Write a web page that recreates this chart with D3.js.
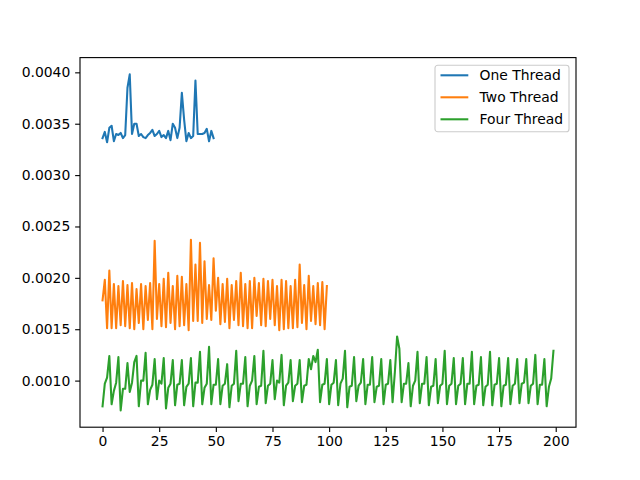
<!DOCTYPE html>
<html>
<head>
<meta charset="utf-8">
<script src="https://cdn.jsdelivr.net/npm/d3@7"></script>
<style>
	body { margin: 0; background: #fff; }
	text { font-family: "DejaVu Sans", sans-serif; font-size: 13.9px; fill: #000; }
</style>
</head>
<body>
<div id="chart"></div>
<script>
// series names and colours
var seriesNames = ["One Thread", "Two Thread", "Four Thread"];
var seriesColors = ["#1f77b4", "#ff7f0e", "#2ca02c"];

// timings, one value per run index
var oneThread = [0.00336,0.00342,0.00332,0.00346,0.00348,0.00333,0.00340,0.00339,0.00341,0.00336,
	0.00339,0.00385,0.00398,0.00340,0.00350,0.00350,0.00338,0.00340,0.00337,0.00336,
	0.00339,0.00341,0.00344,0.00338,0.00340,0.00343,0.00337,0.00339,0.00336,0.00343,
	0.00334,0.00350,0.00346,0.00336,0.00346,0.00380,0.00354,0.00333,0.00341,0.00336,
	0.00338,0.00392,0.00340,0.00340,0.00340,0.00341,0.00345,0.00333,0.00343,0.00336];

var twoThread = [0.00178,0.00198,0.00151,0.00207,0.00151,0.00194,0.00151,0.00192,0.00154,0.00197,
	0.00153,0.00193,0.00151,0.00195,0.00150,0.00189,0.00156,0.00194,0.00150,0.00192,
	0.00159,0.00195,0.00150,0.00236,0.00160,0.00194,0.00153,0.00199,0.00152,0.00205,
	0.00156,0.00192,0.00150,0.00202,0.00153,0.00201,0.00154,0.00194,0.00149,0.00237,
	0.00158,0.00213,0.00158,0.00234,0.00156,0.00216,0.00160,0.00193,0.00159,0.00219,
	0.00168,0.00200,0.00155,0.00194,0.00157,0.00199,0.00151,0.00193,0.00159,0.00197,
	0.00154,0.00205,0.00153,0.00194,0.00151,0.00197,0.00151,0.00200,0.00163,0.00195,
	0.00154,0.00199,0.00153,0.00197,0.00160,0.00198,0.00154,0.00192,0.00149,0.00198,
	0.00150,0.00197,0.00151,0.00192,0.00151,0.00198,0.00152,0.00213,0.00156,0.00193,
	0.00150,0.00202,0.00158,0.00192,0.00155,0.00195,0.00154,0.00196,0.00150,0.00192];

var fourThread = [0.00075,0.00097,0.00103,0.00124,0.00077,0.00090,0.00098,0.00123,0.00071,0.00092,
	0.00092,0.00117,0.00089,0.00098,0.00118,0.00124,0.00075,0.00100,0.00100,0.00127,
	0.00077,0.00091,0.00096,0.00121,0.00082,0.00100,0.00097,0.00122,0.00073,0.00093,
	0.00097,0.00120,0.00076,0.00096,0.00097,0.00120,0.00076,0.00094,0.00097,0.00122,
	0.00075,0.00098,0.00098,0.00128,0.00077,0.00093,0.00097,0.00133,0.00077,0.00096,
	0.00096,0.00121,0.00077,0.00095,0.00097,0.00116,0.00074,0.00095,0.00097,0.00129,
	0.00080,0.00097,0.00097,0.00123,0.00075,0.00095,0.00100,0.00124,0.00077,0.00094,
	0.00095,0.00129,0.00078,0.00095,0.00097,0.00120,0.00082,0.00100,0.00098,0.00125,
	0.00076,0.00095,0.00098,0.00120,0.00080,0.00095,0.00097,0.00120,0.00079,0.00095,
	0.00096,0.00121,0.00111,0.00124,0.00118,0.00130,0.00079,0.00096,0.00097,0.00121,
	0.00077,0.00096,0.00098,0.00120,0.00076,0.00097,0.00102,0.00129,0.00074,0.00094,
	0.00095,0.00123,0.00080,0.00095,0.00098,0.00121,0.00077,0.00096,0.00096,0.00123,
	0.00079,0.00094,0.00095,0.00121,0.00077,0.00096,0.00097,0.00120,0.00079,0.00108,
	0.00143,0.00131,0.00079,0.00097,0.00097,0.00117,0.00075,0.00095,0.00100,0.00128,
	0.00078,0.00097,0.00097,0.00123,0.00076,0.00094,0.00095,0.00121,0.00078,0.00095,
	0.00097,0.00129,0.00077,0.00095,0.00097,0.00122,0.00077,0.00095,0.00097,0.00122,
	0.00077,0.00097,0.00097,0.00128,0.00077,0.00095,0.00096,0.00123,0.00076,0.00094,
	0.00096,0.00128,0.00076,0.00096,0.00097,0.00122,0.00075,0.00095,0.00096,0.00122,
	0.00077,0.00095,0.00097,0.00121,0.00078,0.00097,0.00098,0.00121,0.00078,0.00095,
	0.00097,0.00125,0.00077,0.00096,0.00096,0.00121,0.00075,0.00094,0.00102,0.00129];

// tick values
var xTicks = [0, 25, 50, 75, 100, 125, 150, 175, 200];
var yTicks = [0.0010, 0.0015, 0.0020, 0.0025, 0.0030, 0.0035, 0.0040];

var allSeries = [oneThread, twoThread, fourThread];

var width = 640, height = 480;
var margins = { top: 57.6, right: 64, bottom: 52.8, left: 80 };
var plotW = width - margins.left - margins.right;
var plotH = height - margins.top - margins.bottom;

var svg = d3.select("#chart").append("svg")
	.attr("width", width)
	.attr("height", height);

// matplotlib style 5% padding on the data limits
var xMax = d3.max(allSeries, function(s) { return s.length - 1; });
var yMin = d3.min(allSeries, function(s) { return d3.min(s); });
var yMax = d3.max(allSeries, function(s) { return d3.max(s); });
var xPad = xMax * 0.05, yPad = (yMax - yMin) * 0.05;

var x = d3.scaleLinear().domain([-xPad, xMax + xPad]).range([0, plotW]);
var y = d3.scaleLinear().domain([yMin - yPad, yMax + yPad]).range([plotH, 0]);

var g = svg.append("g").attr("transform", "translate(" + margins.left + "," + margins.top + ")");

var line = d3.line()
	.x(function(d, i) { return x(i); })
	.y(function(d) { return y(d); });

allSeries.forEach(function(s, k) {
	g.append("path")
		.datum(s)
		.attr("fill", "none")
		.attr("stroke", seriesColors[k])
		.attr("stroke-width", 2.08)
		.attr("stroke-linejoin", "round")
		.attr("stroke-linecap", "square")
		.attr("d", line);
});

// axes
var xAxis = d3.axisBottom(x).tickValues(xTicks).tickSize(4.86).tickPadding(4.2).tickFormat(d3.format("d"));
var yAxis = d3.axisLeft(y).tickValues(yTicks).tickSize(4.86).tickPadding(4.86).tickFormat(d3.format(".4f"));

var gx = g.append("g").attr("transform", "translate(0," + plotH + ")").call(xAxis);
var gy = g.append("g").call(yAxis);

[gx, gy].forEach(function(a) {
	a.select(".domain").remove();
	a.selectAll(".tick line").attr("stroke", "#000").attr("stroke-width", 1.11);
	a.selectAll(".tick text").attr("font-size", null).attr("font-family", null);
});
gx.selectAll(".tick text").attr("dy", "0.71em");

// frame
g.append("rect")
	.attr("width", plotW)
	.attr("height", plotH)
	.attr("fill", "none")
	.attr("stroke", "#000")
	.attr("stroke-width", 1.11);

// legend
var lg = g.append("g").attr("transform", "translate(" + (435 - margins.left) + "," + (65.3 - margins.top) + ")");
lg.append("rect")
	.attr("width", 134)
	.attr("height", 66.5)
	.attr("rx", 2.8)
	.attr("fill", "#fff")
	.attr("fill-opacity", 0.8)
	.attr("stroke", "#cccccc")
	.attr("stroke-width", 1.11);

seriesNames.forEach(function(name, k) {
	var row = lg.append("g").attr("transform", "translate(0," + (10 + k * 22) + ")");
	row.append("line")
		.attr("x1", 5.5).attr("x2", 33.3)
		.attr("stroke", seriesColors[k])
		.attr("stroke-width", 2.08);
	row.append("text")
		.attr("x", 44.6)
		.attr("dy", "0.35em")
		.text(name);
});
</script>
</body>
</html>
